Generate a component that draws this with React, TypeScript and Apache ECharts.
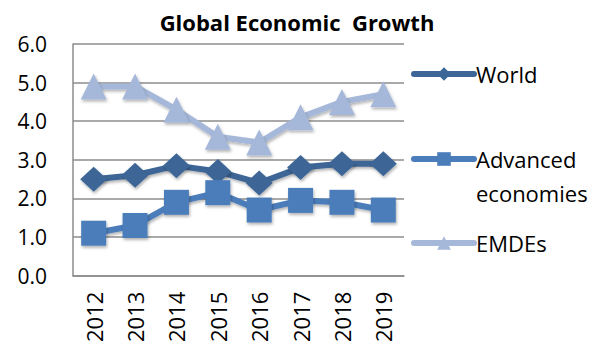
import React, { useEffect, useRef } from "react";
import * as echarts from "echarts";

const years = ["2012", "2013", "2014", "2015", "2016", "2017", "2018", "2019"];
const world = [2.5, 2.6, 2.85, 2.7, 2.4, 2.8, 2.9, 2.9];
const advanced = [1.1, 1.3, 1.9, 2.15, 1.7, 1.95, 1.9, 1.7];
const emdes = [4.9, 4.9, 4.3, 3.6, 3.45, 4.1, 4.5, 4.7];
const yTicks = [0, 1, 2, 3, 4, 5, 6];

const FONT = "Open Sans";
const C_WORLD = "#3c6697";
const C_ADV = "#4b7dbb";
const C_EM = "#a6b8d9";

export default function App() {
  const ref = useRef<HTMLDivElement>(null);
  useEffect(() => {
    if (!ref.current) return;
    const chart = echarts.init(ref.current, null, { renderer: "svg" });
    const shadow = { shadowColor: "rgba(0,0,0,0.3)", shadowBlur: 3, shadowOffsetX: 1, shadowOffsetY: 2 };
    const legendBase = {
      orient: "vertical" as const,
      left: 411,
      padding: 0,
      itemWidth: 60,
      itemHeight: 17,
      itemGap: 0,
      lineStyle: { width: 6, cap: "round" },
      textStyle: { fontFamily: FONT, fontSize: 22, color: "#000", padding: [0, 0, 0, -3] },
    };
    chart.setOption({
      animation: false,
      title: {
        text: "Global Economic  Growth",
        left: "center",
        top: 6,
        textStyle: { fontFamily: FONT, fontSize: 22, fontWeight: "bold", color: "#000" },
      },
      grid: { left: 73, right: 190, top: 44, bottom: 69 },
      legend: [
        { ...legendBase, top: 63, data: ["World"] },
        {
          ...legendBase,
          top: 148,
          data: ["Advanced economies"],
          formatter: () => "Advanced",
        },
        { ...legendBase, top: 232, data: ["EMDEs"] },
      ],
      graphic: [
        {
          type: "text",
          left: 476,
          top: 182,
          style: { text: "economies", fontFamily: FONT, fontSize: 22, fill: "#000" },
        },
      ],
      xAxis: {
        type: "category",
        data: years,
        boundaryGap: true,
        axisLine: { lineStyle: { color: "#8c8c8c", width: 1.5 } },
        axisTick: { show: false },
        axisLabel: {
          rotate: 90,
          interval: 0,
          margin: 16,
          fontFamily: FONT,
          fontSize: 22,
          color: "#000",
        },
      },
      yAxis: {
        type: "value",
        min: yTicks[0],
        max: yTicks[yTicks.length - 1],
        interval: 1,
        axisLine: { show: true, lineStyle: { color: "#8c8c8c", width: 1.5 } },
        axisTick: { show: false },
        splitLine: { lineStyle: { color: "#8c8c8c", width: 1.5 } },
        axisLabel: {
          margin: 26,
          fontFamily: FONT,
          fontSize: 21,
          color: "#000",
          formatter: (v: number) => v.toFixed(1),
        },
      },
      series: [
        {
          name: "EMDEs",
          type: "line",
          data: emdes,
          symbol: "triangle",
          symbolSize: 26,
          z: 2,
          lineStyle: { color: C_EM, width: 6, ...shadow },
          itemStyle: { color: C_EM, ...shadow },
        },
        {
          name: "World",
          type: "line",
          data: world,
          symbol: "diamond",
          symbolSize: [27, 25],
          z: 3,
          lineStyle: { color: C_WORLD, width: 6, ...shadow },
          itemStyle: { color: C_WORLD, ...shadow },
        },
        {
          name: "Advanced economies",
          type: "line",
          data: advanced,
          symbol: "rect",
          symbolSize: 25,
          z: 4,
          lineStyle: { color: C_ADV, width: 6, ...shadow },
          itemStyle: { color: C_ADV, ...shadow },
        },
      ],
    });
    return () => chart.dispose();
  }, []);
  return <div ref={ref} style={{ width: 594, height: 345, position: "absolute", left: 0, top: 0 }} />;
}
